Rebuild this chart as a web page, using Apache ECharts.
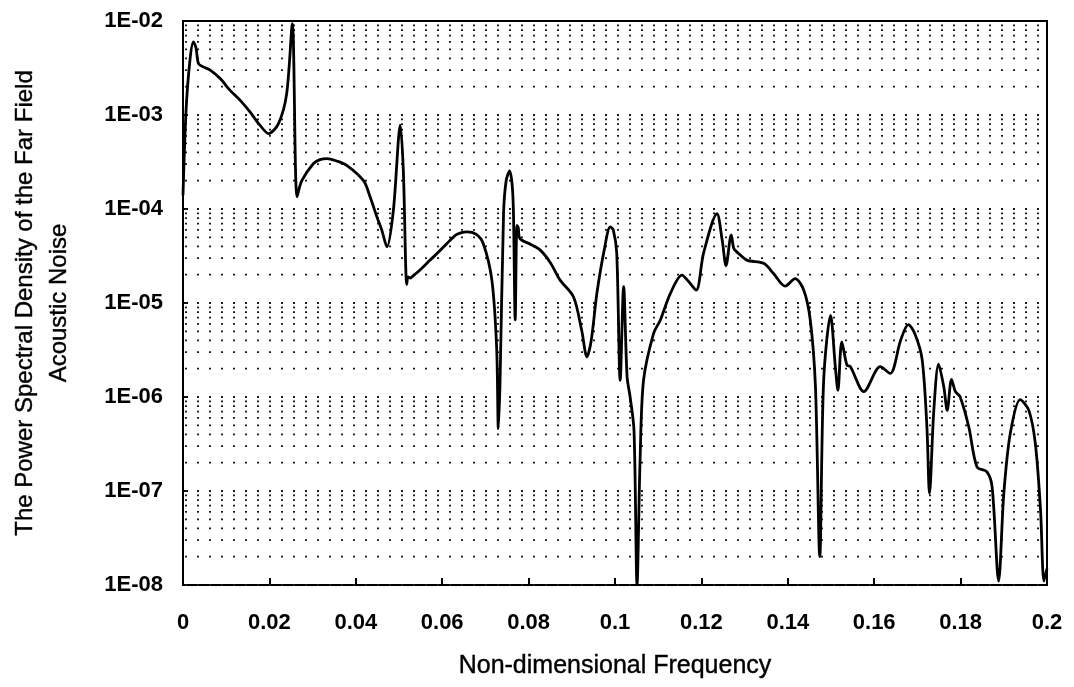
<!DOCTYPE html>
<html>
<head>
<meta charset="utf-8">
<title>Far field acoustic noise spectrum</title>
<script src="https://cdn.jsdelivr.net/npm/echarts@6/dist/echarts.min.js"></script>
<style>
  html, body { margin: 0; padding: 0; background: #fff; }
  #chart { width: 1074px; height: 687px; }
</style>
</head>
<body>
<div id="chart"></div>
<script>
// Non-dimensional frequency samples along the spectrum
const freq = [
  0.0000, 0.0007, 0.0016, 0.0024, 0.0030, 0.0036, 0.0047, 0.0063, 0.0086, 0.0109,
  0.0132, 0.0155, 0.0178, 0.0198, 0.0221, 0.0240, 0.0253, 0.0264, 0.0275, 0.0302,
  0.0317, 0.0333, 0.0356, 0.0379, 0.0418, 0.0433, 0.0449, 0.0460, 0.0472, 0.0487,
  0.0503, 0.0510, 0.0518, 0.0521, 0.0526, 0.0530, 0.0551, 0.0572, 0.0592, 0.0611,
  0.0632, 0.0645, 0.0657, 0.0678, 0.0695, 0.0715, 0.0726, 0.0730, 0.0734, 0.0742,
  0.0748, 0.0756, 0.0762, 0.0765, 0.0769, 0.0773, 0.0776, 0.0780, 0.0805, 0.0827,
  0.0850, 0.0873, 0.0904, 0.0923, 0.0935, 0.0945, 0.0958, 0.0975, 0.0989, 0.0996,
  0.1004, 0.1012, 0.1020, 0.1028, 0.1035, 0.1044, 0.1051, 0.1058, 0.1066, 0.1089,
  0.1105, 0.1128, 0.1155, 0.1170, 0.1188, 0.1205, 0.1236, 0.1248, 0.1257, 0.1269,
  0.1275, 0.1282, 0.1305, 0.1344, 0.1367, 0.1394, 0.1417, 0.1437, 0.1452, 0.1464,
  0.1474, 0.1483, 0.1499, 0.1510, 0.1516, 0.1525, 0.1537, 0.1545, 0.1576, 0.1614,
  0.1637, 0.1661, 0.1679, 0.1695, 0.1711, 0.1722, 0.1728, 0.1738, 0.1749, 0.1761,
  0.1769, 0.1779, 0.1788, 0.1799, 0.1819, 0.1838, 0.1861, 0.1873, 0.1888, 0.1900,
  0.1915, 0.1938, 0.1958, 0.1973, 0.1985, 0.1993, 0.2000
];

// Power spectral density of the far field acoustic noise at each frequency
const psd = [
  1.4e-4, 1.1e-3, 3.8e-3, 6.0e-3, 5.2e-3, 3.5e-3, 3.25e-3, 3.0e-3, 2.44e-3, 1.83e-3,
  1.44e-3, 1.08e-3, 7.8e-4, 6.35e-4, 8.1e-4, 1.69e-3, 9.4e-3, 1.35e-4, 2.0e-4, 3.05e-4,
  3.35e-4, 3.44e-4, 3.24e-4, 2.92e-4, 2.0e-4, 1.35e-4, 8.2e-5, 6.0e-5, 3.95e-5, 9.7e-5,
  7.8e-4, 2.6e-4, 1.58e-5, 1.9e-5, 1.84e-5, 1.9e-5, 2.3e-5, 2.86e-5, 3.5e-5, 4.3e-5,
  5.3e-5, 5.6e-5, 5.7e-5, 5.4e-5, 4.3e-5, 1.75e-5, 3.4e-6, 4.6e-7, 1.5e-6, 8.9e-5,
  2.0e-4, 2.54e-4, 1.8e-4, 8.9e-5, 6.6e-6, 6.7e-5, 6.3e-5, 4.85e-5, 4.2e-5, 3.65e-5,
  2.7e-5, 1.75e-5, 1.16e-5, 5.1e-6, 2.67e-6, 4.0e-6, 1.26e-5, 3.65e-5, 6.45e-5, 6.0e-5,
  3.4e-5, 1.5e-6, 1.49e-5, 1.64e-6, 1.0e-6, 4.4e-7, 1.0e-8, 2.1e-7, 1.5e-6, 4.7e-6,
  6.6e-6, 1.26e-5, 1.98e-5, 1.7e-5, 1.37e-5, 3.4e-5, 8.9e-5, 4.7e-5, 2.5e-5, 5.3e-5,
  3.8e-5, 3.5e-5, 2.86e-5, 2.64e-5, 2.06e-5, 1.51e-5, 1.82e-5, 1.37e-5, 6.6e-6, 1.29e-6,
  2.0e-8, 1.5e-6, 7.4e-6, 2.1e-6, 1.18e-6, 3.86e-6, 2.18e-6, 2.1e-6, 1.14e-6, 2.1e-6,
  1.78e-6, 4.0e-6, 5.9e-6, 4.6e-6, 2.5e-6, 4.8e-7, 9.4e-8, 7.2e-7, 2.24e-6, 1.29e-6,
  7.2e-7, 1.54e-6, 1.14e-6, 1.0e-6, 4.8e-7, 1.8e-7, 1.6e-7, 1.1e-7, 1.1e-8, 9.4e-8,
  4.1e-7, 9.4e-7, 7.2e-7, 3.2e-7, 6.3e-8, 1.1e-8, 1.5e-8
];

// Axis ranges
const xMin = 0, xMax = 0.2, xStep = 0.02;
const yMin = 1e-8, yMax = 1e-2;

// Dotted grid rows: every mantissa within every decade of the y range
const decadeExponents = [-8, -7, -6, -5, -4, -3];
const mantissas = [1, 2, 3, 4, 5, 6, 7, 8, 9];

const gridRowValues = [];
decadeExponents.forEach(function (e) {
  mantissas.forEach(function (m) {
    gridRowValues.push(m * Math.pow(10, e));
  });
});

const FONT = 'Arial, "Liberation Sans", Helvetica, sans-serif';

// one dotted series per grid row, spanning the whole x range
const gridSeries = gridRowValues.map(function (v) {
  return {
    type: 'line',
    data: [[xMin, v], [xMax, v]],
    z: 1,
    silent: true,
    showSymbol: false,
    symbol: 'none',
    clip: true,
    lineStyle: { color: '#1a1a1a', width: 1.8, type: [2, 10], dashOffset: 10, cap: 'butt' },
    emphasis: { disabled: true }
  };
});

const spectrumSeries = {
  type: 'line',
  data: freq.map(function (f, i) { return [f, psd[i]]; }),
  z: 3,
  showSymbol: false,
  symbol: 'none',
  smooth: 0.3,
  clip: true,
  lineStyle: { color: '#000', width: 2.8 }
};

const chart = echarts.init(document.getElementById('chart'), null, { renderer: 'canvas' });

chart.setOption({
  animation: false,
  backgroundColor: '#fff',
  grid: {
    left: 183, right: 27, top: 21, bottom: 102,
    show: true, borderColor: '#000', borderWidth: 2, backgroundColor: 'transparent'
  },
  xAxis: {
    type: 'value',
    min: xMin, max: xMax, interval: xStep,
    name: 'Non-dimensional Frequency',
    nameLocation: 'middle',
    nameGap: 69,
    nameTextStyle: { fontFamily: FONT, fontSize: 25, color: '#000', textBorderColor: '#000', textBorderWidth: 0.4 },
    axisLine: { show: true, onZero: false, lineStyle: { color: '#000', width: 2 } },
    axisTick: { show: true, inside: true, length: 7, lineStyle: { color: '#000', width: 2 } },
    axisLabel: {
      margin: 27, color: '#000', fontFamily: FONT, fontSize: 22, fontWeight: 'bold',
      formatter: function (v) { return String(+v.toFixed(2)); }
    },
    splitLine: { show: false }
  },
  yAxis: {
    type: 'log', logBase: 10,
    min: yMin, max: yMax, splitNumber: 6,
    axisLine: { show: true, lineStyle: { color: '#000', width: 2 } },
    axisTick: { show: true, inside: true, length: 5, lineStyle: { color: '#000', width: 2 } },
    axisLabel: {
      margin: 20, color: '#000', fontFamily: FONT, fontSize: 22, fontWeight: 'bold',
      formatter: function (v) {
        const e = Math.round(Math.log10(v));
        const n = Math.abs(e);
        return '1E' + (e < 0 ? '-' : '+') + (n < 10 ? '0' : '') + n;
      }
    },
    splitLine: { show: false },
    minorTick: { show: false },
    minorSplitLine: { show: false }
  },
  graphic: [{
    type: 'text',
    x: 42, y: 303,
    rotation: Math.PI / 2,
    style: {
      text: 'The Power Spectral Density of the Far Field\nAcoustic Noise',
      font: '24px ' + FONT,
      fill: '#000',
      stroke: '#000',
      lineWidth: 0.4,
      align: 'center',
      verticalAlign: 'middle',
      lineHeight: 34
    }
  }],
  series: gridSeries.concat([spectrumSeries])
});
</script>
</body>
</html>
